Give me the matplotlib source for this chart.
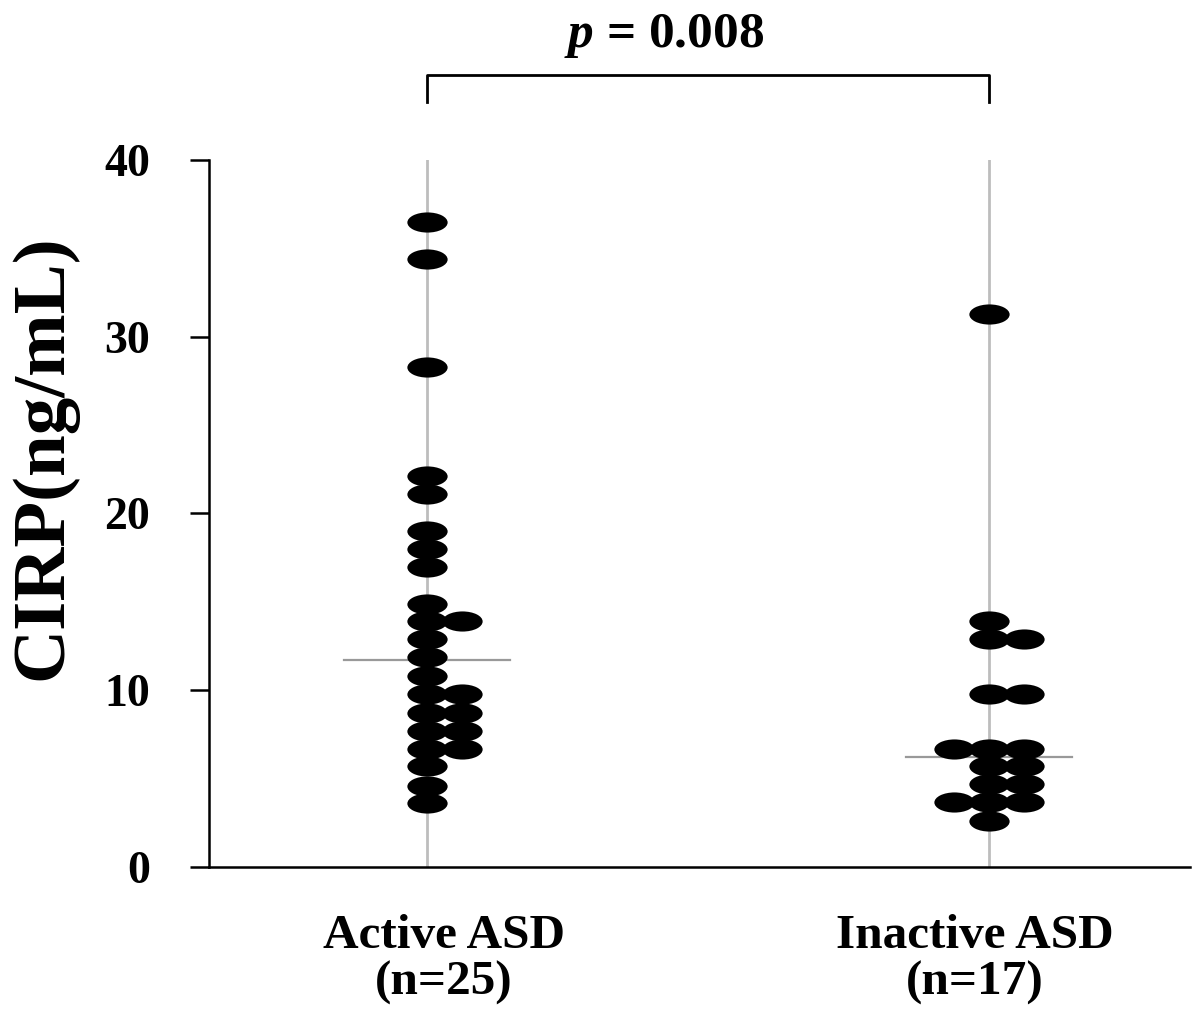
import numpy as np
import matplotlib
matplotlib.use('Agg')
import matplotlib.pyplot as plt
from matplotlib.path import Path
from matplotlib.transforms import Affine2D, ScaledTranslation

# values (ng/mL)
groups = ['Active ASD\n(n=25)', 'Inactive ASD\n(n=17)']
active = [36.5, 34.4, 28.3, 22.1, 21.1, 19.0, 18.0, 17.0, 14.9, 13.9, 13.9,
          12.9, 11.9, 10.8, 9.8, 9.8, 8.7, 8.7, 7.7, 7.7, 6.7, 6.7, 5.7, 4.6, 3.6]
inactive = [31.3, 13.9, 12.9, 12.9, 9.8, 9.8, 6.7, 6.7, 6.7, 5.7, 5.7,
            4.7, 4.7, 3.7, 3.7, 3.7, 2.6]
center_lines = [11.7, 6.2]
y_ticks = [0, 10, 20, 30, 40]
p_text = r'$p$ = 0.008'

plt.rcParams['font.family'] = ['Liberation Serif', 'DejaVu Serif']
plt.rcParams['font.weight'] = 'bold'
plt.rcParams['mathtext.fontset'] = 'custom'
plt.rcParams['mathtext.it'] = 'Liberation Serif:italic:bold'
plt.rcParams['mathtext.rm'] = 'Liberation Serif:bold'

fig = plt.figure(figsize=(11.93, 10.13), dpi=100)
ax = fig.add_axes([0.1752, 0.1441, 0.8223, 0.698])

# horizontally stretched ellipse marker
ell = Path.unit_circle().transformed(Affine2D().scale(1.0, 0.5))

step = 0.062
order = [0, 1, -1, 2, -2]
for i, vals in enumerate([active, inactive]):
    ax.plot([i, i], [0, 40], color='#bdbdbd', lw=2, zorder=1)
    seen = {}
    xs = []
    for v in vals:
        k = seen.get(v, 0)
        seen[v] = k + 1
        xs.append(i + order[k] * step)
    ax.plot(xs, vals, ls='none', marker=ell, markersize=29,
            color='black', markeredgewidth=0, zorder=3)
    ax.plot([i - 0.148, i + 0.148], [center_lines[i]] * 2,
            color='#999999', lw=1.6, zorder=2)

ax.set_xlim(-0.388, 1.358)
ax.set_ylim(0, 40)
ax.set_yticks(y_ticks)
ax.set_yticklabels([str(t) for t in y_ticks], fontsize=33, fontweight='bold')
ax.set_xticks([0, 1])
xlabels = ax.set_xticklabels(groups, fontsize=35.5, fontweight='bold',
                             linespacing=1.08)
ax.tick_params(axis='x', length=0, pad=34)
ax.tick_params(axis='y', direction='out', length=13.5, width=1.8, pad=29)

# labels sit slightly off the category lines in the original
for lab, dx in zip(xlabels, [0.17, -0.14]):
    lab.set_transform(lab.get_transform()
                      + ScaledTranslation(dx, 0, fig.dpi_scale_trans))

for s in ['top', 'right']:
    ax.spines[s].set_visible(False)
for s in ['left', 'bottom']:
    ax.spines[s].set_linewidth(1.8)

ylab = ax.set_ylabel('CIRP(ng/mL)', fontsize=54, fontweight='bold')
ylab.set_va('center')
ax.yaxis.set_label_coords(-0.169, 0.58)

# significance bracket
ax.plot([0, 0, 1, 1], [43.3, 44.8, 44.8, 43.3], color='black', lw=2,
        clip_on=False)
ax.text(0.422, 46.4, p_text, ha='center', va='baseline', fontsize=37,
        fontweight='bold')

fig.savefig('out.png', dpi=100)
